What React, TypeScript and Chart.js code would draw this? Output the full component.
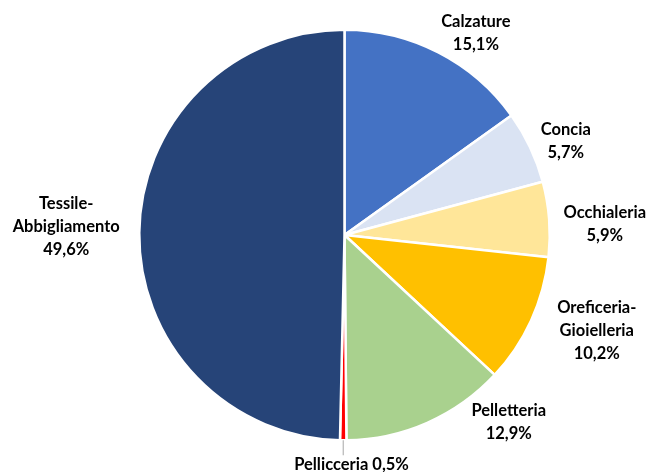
import React, { useEffect, useRef } from "react";
import { Chart, registerables } from "chart.js";

Chart.register(...registerables);

const categories = [
  "Calzature",
  "Concia",
  "Occhialeria",
  "Oreficeria-Gioielleria",
  "Pelletteria",
  "Pellicceria",
  "Tessile-Abbigliamento",
];
const shares = [15.1, 5.7, 5.9, 10.2, 12.9, 0.5, 49.6];
const colors = ["#4472C4", "#DAE3F3", "#FFE699", "#FFC000", "#A9D18E", "#FF0000", "#264478"];

// label placement relative to pie center, in units of the pie radius
const labelOffsets: [number, number][] = [
  [0.64, -0.983],
  [1.078, -0.459],
  [1.268, -0.054],
  [1.229, 0.468],
  [0.8, 0.912],
  [0.034, 1.117],
  [-1.356, -0.039],
];
const singleLine = [false, false, false, false, false, true, false];

const fmt = (v: number) => v.toFixed(1).replace(".", ",") + "%";

const labelPlugin = {
  id: "pieLabels",
  afterDatasetsDraw(chart: any) {
    const meta = chart.getDatasetMeta(0);
    const ctx = chart.ctx;
    const first = meta.data[0];
    if (!first) return;
    const cx = first.x;
    const cy = first.y;
    const r = first.outerRadius;
    ctx.save();
    ctx.font = "bold 16.5px Lato";
    ctx.fillStyle = "#000000";
    ctx.textAlign = "center";
    ctx.textBaseline = "middle";
    const lh = 23;
    categories.forEach((cat, i) => {
      const [ox, oy] = labelOffsets[i];
      const x = cx + ox * r;
      const y = cy + oy * r;
      let lines: string[];
      if (singleLine[i]) {
        lines = [cat + " " + fmt(shares[i])];
      } else {
        const parts = cat.includes("-")
          ? [cat.slice(0, cat.indexOf("-") + 1), cat.slice(cat.indexOf("-") + 1)]
          : [cat];
        lines = [...parts, fmt(shares[i])];
      }
      const top = y - ((lines.length - 1) * lh) / 2;
      lines.forEach((ln, k) => ctx.fillText(ln, x, top + k * lh));
      if (singleLine[i]) {
        // leader line from slice edge down to label
        const arc = meta.data[i];
        const mid = (arc.startAngle + arc.endAngle) / 2;
        const sx = cx + Math.cos(mid) * r;
        const sy = cy + Math.sin(mid) * r;
        ctx.strokeStyle = "#A6A6A6";
        ctx.lineWidth = 1;
        ctx.beginPath();
        ctx.moveTo(sx, sy);
        ctx.lineTo(sx, y - 9);
        ctx.stroke();
      }
    });
    ctx.restore();
  },
};

export default function App() {
  const ref = useRef<HTMLCanvasElement>(null);
  useEffect(() => {
    if (!ref.current) return;
    const chart = new Chart(ref.current, {
      type: "pie",
      data: {
        labels: categories,
        datasets: [
          {
            data: shares,
            backgroundColor: colors,
            borderColor: "#FFFFFF",
            borderWidth: 2.5,
          },
        ],
      },
      options: {
        animation: false,
        responsive: false,
        maintainAspectRatio: false,
        layout: { padding: { left: 138, right: 98, top: 28, bottom: 30 } },
        plugins: { legend: { display: false }, tooltip: { enabled: false } },
      },
      plugins: [labelPlugin],
    });
    return () => chart.destroy();
  }, []);
  return (
    <div style={{ position: "fixed", left: 0, top: 0, width: 649, height: 472, background: "#fff" }}>
      <canvas ref={ref} width={649} height={472} />
    </div>
  );
}
